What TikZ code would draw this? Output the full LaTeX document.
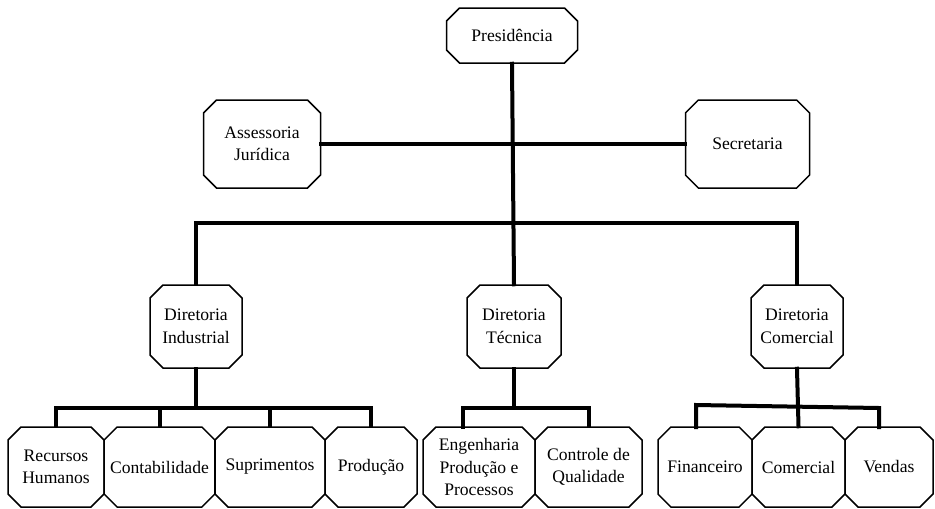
\documentclass[tikz,border=0pt]{standalone}
\usepackage{fontspec}
\setmainfont{Liberation Serif}
\usetikzlibrary{shapes.misc}
\tikzset{
  box/.style={chamfered rectangle, chamfered rectangle xsep=6pt, chamfered rectangle ysep=7pt,
    draw=black, line width=1.5pt, inner sep=0pt, align=center,
    font=\fontsize{17.6}{22.5}\selectfont},
  conn/.style={line width=4pt, line cap=rect},
}
\begin{document}
\begin{tikzpicture}[x=1pt,y=-1pt]
\useasboundingbox (0,0) rectangle (935,509);
% top
\node[box, minimum width=131pt, minimum height=55pt] (pres) at (512,35.5) {Presidência};
\node[box, minimum width=117pt, minimum height=88pt] (assess) at (262,144) {Assessoria\\Jurídica};
\node[box, minimum width=124pt, minimum height=88pt] (secr) at (747.5,144) {Secretaria};
% directors
\node[box, minimum width=92pt, minimum height=83pt] (dind) at (196,326.5) {Diretoria\\Industrial};
\node[box, minimum width=94pt, minimum height=83pt] (dtec) at (514,326.5) {Diretoria\\Técnica};
\node[box, minimum width=92pt, minimum height=83pt] (dcom) at (797,326.5) {Diretoria\\Comercial};
% bottom
\node[box, minimum width=96pt, minimum height=80pt] (rh) at (56,467) {Recursos\\Humanos};
\node[box, minimum width=110pt, minimum height=80pt] (cont) at (159.5,467) {Contabilidade};
\node[box, minimum width=110pt, minimum height=80pt] (supr) at (270,467) {Suprimentos};
\node[box, minimum width=92pt, minimum height=80pt] (prod) at (371,467) {Produção};
\node[box, minimum width=112pt, minimum height=80pt] (eng) at (479,467) {Engenharia\\Produção e\\Processos};
\node[box, minimum width=107pt, minimum height=80pt] (cq) at (588.5,467) {Controle de\\Qualidade};
\node[box, minimum width=94pt, minimum height=80pt] (fin) at (705,467) {Financeiro};
\node[box, minimum width=93pt, minimum height=80pt] (com) at (798.5,467) {Comercial};
\node[box, minimum width=88pt, minimum height=80pt] (vend) at (889,467) {Vendas};
% coordinates
\coordinate (barTop) at (514,223);
\coordinate (barI) at (196,408);
\coordinate (barT) at (514,408);
\coordinate (e1) at (463,427);
\coordinate (f1) at (696,427);
\coordinate (f2) at (696,405);
\coordinate (v2) at (879,408);
\coordinate (v1) at (879,427);
% connectors
\draw[conn] (assess.east) -- (secr.west);
\draw[conn] (pres.south) -- (dtec.north);
\draw[conn] (dind.north) |- (barTop) -| (dcom.north);
% industrial
\draw[conn] (dind.south) -- (barI);
\draw[conn] (rh.north) |- (barI) -| (prod.north);
\draw[conn] (cont.north) -- (cont.north |- barI);
\draw[conn] (supr.north) -- (supr.north |- barI);
% tecnica
\draw[conn] (dtec.south) -- (barT);
\draw[conn] (e1) |- (barT) -| (cq.north);
% comercial
\draw[conn] (dcom.south) -- (com.north);
\draw[conn] (f1) -- (f2) -- (v2) -- (v1);
\end{tikzpicture}
\end{document}
